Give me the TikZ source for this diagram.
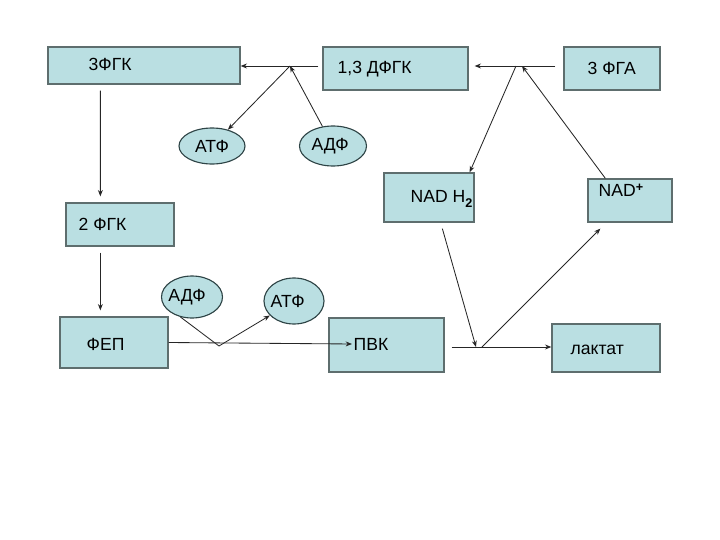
\documentclass[tikz,border=0pt]{standalone}
\usepackage{fontspec}
\setmainfont{Liberation Sans}
\usepackage{xcolor}
\usepackage{tikz}
\usetikzlibrary{positioning}
\usetikzlibrary{calc}
\usetikzlibrary{arrows.meta}
\usetikzlibrary{shapes.geometric}
\definecolor{boxfill}{HTML}{BADFE2}
\definecolor{boxline}{HTML}{5E6E6E}
\definecolor{ovalline}{HTML}{2E4446}

\begin{document}
\begin{tikzpicture}[x=0.25mm, y=-0.25mm,
						every node/.style={font=\fontsize{12.5}{14}\selectfont},
						box/.style={draw=boxline, fill=boxfill, line width=0.9pt, inner sep=0pt},
						oval/.style={ellipse, draw=ovalline, fill=boxfill, line width=0.8pt,
							inner sep=0pt, minimum width=16.5mm, minimum height=9mm},
						txt/.style={anchor=west, inner sep=1pt},
						arr/.style={-{Stealth[length=4.5pt,width=3.5pt]}, line width=0.6pt, black!85}]
		\useasboundingbox (0,0) rectangle (720,540);
		% boxes
		\node [box, minimum width=48mm, minimum height=9.25mm] (fgk3) at (144,65.5) {};
		\node [box, minimum width=36.25mm, minimum height=10.75mm] (dfgk) at (395.5,68.5) {};
		\node [box, minimum width=24mm, minimum height=10.75mm] (fga) at (612,68.5) {};
		\node [box, minimum width=22.5mm, minimum height=12.25mm] (nadh) at (429,197.5) {};
		\node [box, minimum width=21mm, minimum height=10.75mm] (nadp) at (630,200.5) {};
		\node [box, minimum width=27mm, minimum height=10.75mm] (fgk2) at (120,224.5) {};
		\node [box, minimum width=27mm, minimum height=12.75mm] (fep) at (114,342.5) {};
		\node [box, minimum width=28.75mm, minimum height=13.5mm] (pvk) at (386.5,345) {};
		\node [box, minimum width=27mm, minimum height=12mm] (lak) at (606,348) {};
		% texts
		\node [txt] (fgk3t) at (87,64) {3ФГК};
		\node [txt] (dfgkt) at (336,69) {1,3 ДФГК};
		\node [txt] (fgat) at (586,68) {3 ФГА};
		\node [txt] (nadht) at (409,199) {NAD H\raisebox{-3pt}{\bfseries\small 2}};
		\node [txt] (nadpt) at (597,190) {NAD\raisebox{3pt}{\bfseries\small +}};
		\node [txt] (fgk2t) at (77,224) {2 ФГК};
		\node [txt] (fept) at (85,344) {ФЕП};
		\node [txt] (pvkt) at (352,344) {ПВК};
		\node [txt] (lakt) at (569,350) {лактат};
		% ovals
		\node [oval] (atf1) at (212,146) {АТФ};
		\node [oval, minimum width=16.75mm, minimum height=10mm] (adf1) at (333,146) {\hspace*{-4pt}АДФ};
		\node [oval, minimum width=15.25mm, minimum height=10.5mm] (adf2) at (192,297) {\hspace*{-7pt}АДФ};
		\node [oval, minimum width=15mm, minimum height=11.5mm] (atf2) at (294,301) {\hspace*{-9pt}АТФ};
		% junctions
		\coordinate (j1) at (290,66);
		\coordinate (j2a) at (516,66);
		\coordinate (j2b) at (522,66);
		\coordinate (j3) at (219,346);
		\coordinate (j4a) at (476,347);
		\coordinate (j4b) at (482,347);
		\path [arr]
			(dfgk.west |- j1) edge [shorten <=1mm] (fgk3.east |- j1)
			(j1) edge (atf1)
			(adf1) edge (j1)
			(fga.west |- j2a) edge [shorten <=2mm, shorten >=1.5mm] (dfgk.east |- j2a)
			(j2a) edge ([xshift=-1.25mm]nadh.north east)
			($(nadp.north west)+(18,0)$) edge (j2b)
			($(fgk3.south west)+(53,6)$) edge ($(fgk2.north west)+(35,-6)$)
			($(fgk2.south west)+(35,6)$) edge ($(fep.north west)+(41,-6)$)
			(fep.east) edge (pvkt.west)
			(j3) edge (atf2)
			(pvk.east |- j4a) edge [shorten <=1.75mm] (lak.west |- j4a)
			($(nadh.south west)+(59,6)$) edge (j4a)
			(j4b) edge ($(nadp.south west)+(13,6)$);
		\draw [line width=0.6pt, black!85] (adf2.-120) -- (j3);
	\end{tikzpicture}
\end{document}
